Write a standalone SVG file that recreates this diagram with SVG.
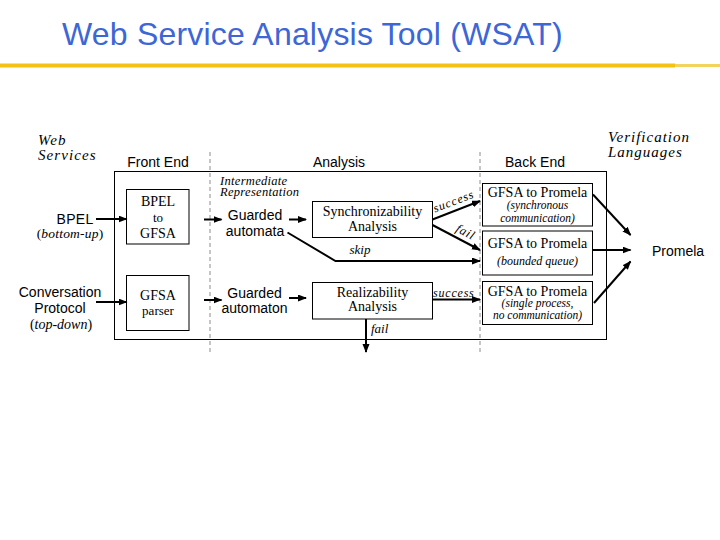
<svg xmlns="http://www.w3.org/2000/svg" width="720" height="540" viewBox="0 0 720 540">
<style>
.sans{font-family:"Liberation Sans",Arial,sans-serif;fill:#000}
.serif{font-family:"Liberation Serif","Times New Roman",serif;fill:#000}
.it{font-style:italic}
.up{font-style:normal}
.box{fill:#fff;stroke:#000;stroke-width:1}
.frame{fill:none;stroke:#000;stroke-width:1}
.dash{stroke:#8c8c8c;stroke-width:1;stroke-dasharray:4,3;fill:none}
.arr{stroke:#000;stroke-width:2;fill:none;marker-end:url(#ah)}
.mid{text-anchor:middle}
</style>
<defs>
<marker id="ah" markerUnits="userSpaceOnUse" markerWidth="9" markerHeight="8" refX="8" refY="3.5" orient="auto">
<path d="M0,0 L9,3.5 L0,7 z" fill="#000"/>
</marker>
</defs>
<rect width="720" height="540" fill="#fff"/>

<g id="title">
<text x="62" y="44.5" class="sans" style="font-size:32px;fill:#3d66d6;letter-spacing:0.2px">Web Service Analysis Tool (WSAT)</text>
<rect x="0" y="63.5" width="675" height="4" fill="#f4c312"/>
<rect x="675" y="64" width="45" height="3" fill="#f2d35c"/>
</g>

<g id="web-services-label">
<text x="38" y="145" class="serif it" style="font-size:15px;letter-spacing:1.1px">Web</text>
<text x="38" y="160" class="serif it" style="font-size:15px;letter-spacing:1.1px">Services</text>
</g>

<g id="verification-languages-label">
<text x="608" y="142" class="serif it" style="font-size:15px;letter-spacing:1px">Verification</text>
<text x="608" y="157" class="serif it" style="font-size:15px;letter-spacing:1px">Languages</text>
</g>

<g id="bpel-input">
<text x="75" y="223.5" class="sans mid" style="font-size:14px;letter-spacing:0.3px">BPEL</text>
<text x="70" y="237.5" class="serif it mid" style="font-size:13.5px;letter-spacing:0.2px"><tspan class="up">(</tspan>bottom-up<tspan class="up">)</tspan></text>
</g>

<g id="conversation-protocol-input">
<text x="60" y="297" class="sans mid" style="font-size:14px">Conversation</text>
<text x="60" y="313" class="sans mid" style="font-size:14px">Protocol</text>
<text x="61" y="329" class="serif it mid" style="font-size:14px"><tspan class="up">(</tspan>top-down<tspan class="up">)</tspan></text>
</g>

<g id="tool-frame">
<rect x="114.5" y="171.5" width="492" height="168" class="frame"/>
<line x1="210" y1="152" x2="210" y2="352" class="dash"/>
<line x1="480" y1="152" x2="480" y2="352" class="dash"/>
<text x="158" y="166.5" class="sans mid" style="font-size:14px">Front End</text>
<text x="339" y="166.5" class="sans mid" style="font-size:14px">Analysis</text>
<text x="535" y="166.5" class="sans mid" style="font-size:14px">Back End</text>
</g>

<g id="bpel-to-gfsa">
<rect x="126.5" y="189.5" width="62.5" height="54.5" class="box"/>
<text x="158" y="206" class="serif mid" style="font-size:14px">BPEL</text>
<text x="158" y="221.5" class="serif mid" style="font-size:13px">to</text>
<text x="158" y="238" class="serif mid" style="font-size:14px">GFSA</text>
</g>

<g id="gfsa-parser">
<rect x="126.5" y="275.5" width="62.5" height="55" class="box"/>
<text x="158" y="300" class="serif mid" style="font-size:14px">GFSA</text>
<text x="158" y="315" class="serif mid" style="font-size:13px">parser</text>
</g>

<g id="intermediate-representation-label">
<text x="220" y="184.5" class="serif it" style="font-size:12.5px;letter-spacing:0.3px">Intermediate</text>
<text x="220" y="196" class="serif it" style="font-size:12.5px;letter-spacing:0.3px">Representation</text>
</g>

<g id="guarded-automata">
<text x="255" y="220" class="sans mid" style="font-size:14px">Guarded</text>
<text x="255" y="235.5" class="sans mid" style="font-size:14px">automata</text>
</g>

<g id="guarded-automaton">
<text x="254.5" y="297.5" class="sans mid" style="font-size:14px">Guarded</text>
<text x="254.5" y="313" class="sans mid" style="font-size:14px">automaton</text>
</g>

<g id="synchronizability-analysis">
<rect x="312.5" y="201.5" width="120" height="36" class="box"/>
<text x="372.5" y="216" class="serif mid" style="font-size:14px">Synchronizability</text>
<text x="372.5" y="230.5" class="serif mid" style="font-size:14px">Analysis</text>
</g>

<g id="realizability-analysis">
<rect x="312.5" y="282.5" width="120" height="36.5" class="box"/>
<text x="372.5" y="297" class="serif mid" style="font-size:14px">Realizability</text>
<text x="372.5" y="311" class="serif mid" style="font-size:14px">Analysis</text>
</g>

<g id="gfsa-to-promela-sync">
<rect x="482.5" y="183.5" width="110" height="42.5" class="box"/>
<text x="537.5" y="197" class="serif mid" style="font-size:14px">GFSA to Promela</text>
<text x="537.5" y="208.5" class="serif it mid" style="font-size:11.5px">(synchronous</text>
<text x="537.5" y="222" class="serif it mid" style="font-size:11.5px">communication)</text>
</g>

<g id="gfsa-to-promela-queue">
<rect x="482.5" y="231" width="110" height="44" class="box"/>
<text x="537.5" y="247.5" class="serif mid" style="font-size:14px">GFSA to Promela</text>
<text x="537.5" y="265" class="serif it mid" style="font-size:12px">(bounded queue)</text>
</g>

<g id="gfsa-to-promela-single">
<rect x="482.5" y="281.5" width="110" height="43" class="box"/>
<text x="537.5" y="295.5" class="serif mid" style="font-size:14px">GFSA to Promela</text>
<text x="537.5" y="307" class="serif it mid" style="font-size:11.5px">(single process,</text>
<text x="537.5" y="318.5" class="serif it mid" style="font-size:11.5px">no communication)</text>
</g>

<g id="promela">
<text x="652" y="256" class="sans" style="font-size:14px">Promela</text>
</g>

<g id="connectors">
<line x1="96" y1="219" x2="126.5" y2="219" class="arr"/>
<line x1="96" y1="302" x2="126.5" y2="302" class="arr"/>
<line x1="204" y1="219.5" x2="221.5" y2="219.5" class="arr"/>
<line x1="204" y1="300" x2="221.5" y2="300" class="arr"/>
<line x1="289" y1="219.5" x2="306" y2="219.5" class="arr"/>
<line x1="289" y1="298" x2="306" y2="298" class="arr"/>
<line x1="432.5" y1="219.5" x2="480" y2="201" class="arr"/>
<line x1="432.5" y1="225" x2="480" y2="250" class="arr"/>
<polyline points="287.5,232.5 335.5,261 480,261" class="arr"/>
<line x1="432.5" y1="299.5" x2="480" y2="299.5" class="arr"/>
<line x1="366" y1="319" x2="366" y2="352" class="arr"/>
<line x1="593" y1="194.5" x2="630.5" y2="235" class="arr"/>
<line x1="593" y1="250" x2="630.5" y2="250" class="arr"/>
<line x1="594" y1="303" x2="630.5" y2="261.5" class="arr"/>
<text x="435" y="212.5" class="serif it" style="font-size:12px;letter-spacing:1px" transform="rotate(-21 435 212.5)">success</text>
<text x="455" y="231" class="serif it" style="font-size:12.5px;letter-spacing:0.8px" transform="rotate(28 455 231)">fail</text>
<text x="360" y="254" class="serif it mid" style="font-size:13px">skip</text>
<text x="433" y="297" class="serif it" style="font-size:12px;letter-spacing:0.8px">success</text>
<text x="371" y="333" class="serif it" style="font-size:13px">fail</text>
</g>
</svg>
